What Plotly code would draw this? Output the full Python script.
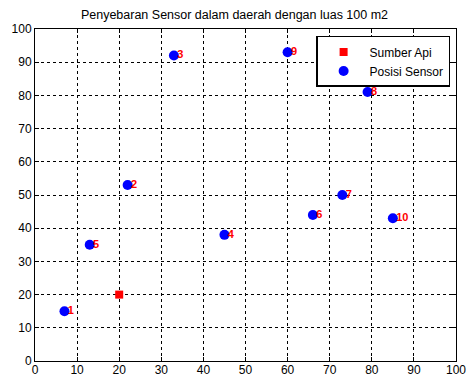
import plotly.graph_objects as go

fire_x = [20]
fire_y = [20]
sensor_x = [7, 22, 33, 45, 13, 66, 73, 79, 60, 85]
sensor_y = [15, 53, 92, 38, 35, 44, 50, 81, 93, 43]
sensor_labels = [str(i) for i in range(1, 11)]
ticks = list(range(0, 101, 10))

label_offset = 0.8

fig = go.Figure()
fig.add_trace(go.Scatter(x=fire_x, y=fire_y, mode="markers", name="Sumber Api",
                         marker=dict(symbol="square", color="#ff0000", size=8)))
fig.add_trace(go.Scatter(x=sensor_x, y=sensor_y, mode="markers", name="Posisi Sensor",
                         marker=dict(symbol="circle", color="#0000ff", size=10)))
fig.add_trace(go.Scatter(x=[v + label_offset for v in sensor_x], y=sensor_y, mode="text",
                         text=sensor_labels, textposition="middle right", showlegend=False,
                         textfont=dict(color="#ff0000", size=11, family="Liberation Sans", weight="bold")))

axis_common = dict(range=[0, 100], tickvals=ticks, showgrid=True, gridcolor="black",
                   griddash="dot", gridwidth=1, showline=True, linecolor="black", linewidth=1,
                   mirror="ticks", ticks="inside", ticklen=4, tickcolor="black",
                   zeroline=False, automargin=False, tickfont=dict(size=12, color="black"))

fig.update_layout(
    width=469, height=378,
    margin=dict(l=35, r=13, t=29, b=17),
    paper_bgcolor="white", plot_bgcolor="white",
    font=dict(family="Liberation Sans", color="black", size=12),
    title=dict(text="Penyebaran Sensor dalam daerah dengan luas 100 m2", x=0.5, xanchor="center",
               xref="container", yref="container", y=1 - 15 / 378, yanchor="middle",
               font=dict(size=12.5)),
    xaxis=dict(axis_common, ticklabelstandoff=-2),
    yaxis=axis_common,
    legend=dict(x=0.986, y=0.979, xanchor="right", yanchor="top", bgcolor="white",
                bordercolor="black", borderwidth=1.5, font=dict(size=12),
                itemwidth=42, tracegroupgap=0),
)

fig.write_html("out.html", config={"displayModeBar": False},
               post_script="document.body.style.margin='0';document.body.style.padding='0';")
